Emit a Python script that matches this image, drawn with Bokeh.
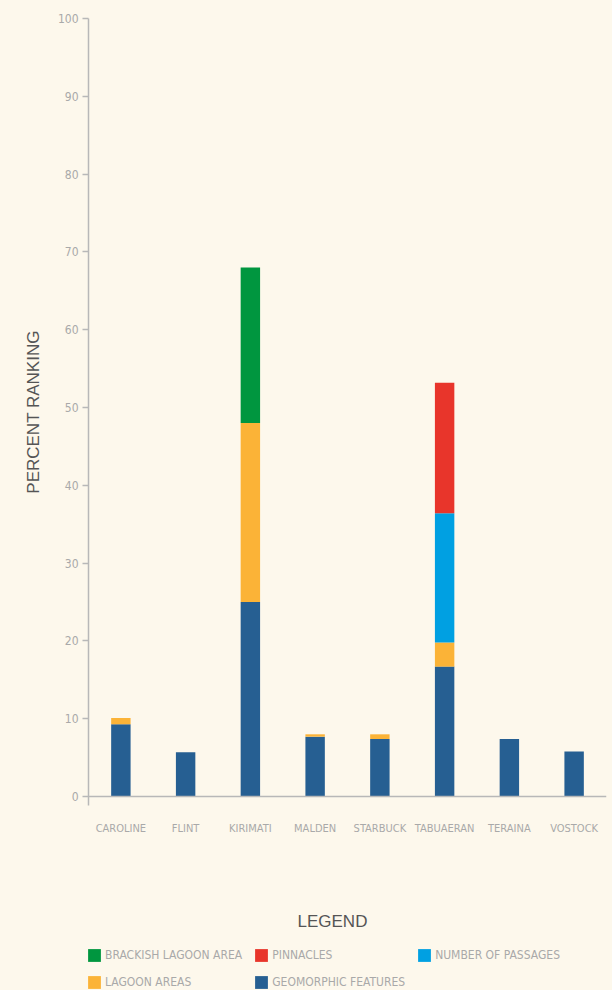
from bokeh.plotting import figure
from bokeh.layouts import column
from bokeh.models import (ColumnDataSource, FactorRange, Range1d, FixedTicker, Span,
                          Legend, LegendItem)
from bokeh.embed import file_html
from bokeh.resources import INLINE

islands = ["CAROLINE", "FLINT", "KIRIMATI", "MALDEN", "STARBUCK", "TABUAERAN", "TERAINA", "VOSTOCK"]
geomorphic = [9.3, 5.7, 25.0, 7.7, 7.4, 16.7, 7.4, 5.8]
lagoon = [0.8, 0.0, 23.0, 0.3, 0.6, 3.1, 0.0, 0.0]
brackish = [0.0, 0.0, 20.0, 0.0, 0.0, 0.0, 0.0, 0.0]
passages = [0.0, 0.0, 0.0, 0.0, 0.0, 16.6, 0.0, 0.0]
pinnacles = [0.0, 0.0, 0.0, 0.0, 0.0, 16.8, 0.0, 0.0]
y_ticks = [0, 10, 20, 30, 40, 50, 60, 70, 80, 90, 100]

series_keys = ["geomorphic", "lagoon", "brackish", "passages", "pinnacles"]
series_labels = {"geomorphic": "GEOMORPHIC FEATURES", "lagoon": "LAGOON AREAS",
                 "brackish": "BRACKISH LAGOON AREA", "passages": "NUMBER OF PASSAGES",
                 "pinnacles": "PINNACLES"}
series_colors = {"geomorphic": "#265f92", "lagoon": "#fbb337", "brackish": "#00963f",
                 "passages": "#00a0e2", "pinnacles": "#e8352b"}
legend_order = ["brackish", "pinnacles", "passages", "lagoon", "geomorphic"]

BG = "#fdf8ec"
TICK_GRAY = "#a9a9a9"
LINE_GRAY = "#b8b8b8"
NARROW = "'DejaVu Sans Condensed', Roboto, sans-serif"
WIDE = "'Liberation Sans', sans-serif"

source = ColumnDataSource(dict(island=islands, geomorphic=geomorphic, lagoon=lagoon,
                               brackish=brackish, passages=passages, pinnacles=pinnacles))
colors = [series_colors[k] for k in series_keys]

# ---------------- main chart ----------------
p = figure(width=612, height=907, x_range=FactorRange(*islands), y_range=Range1d(-1.15, 100),
           output_backend="svg", toolbar_location=None,
           min_border_left=88, min_border_right=6, min_border_top=18, min_border_bottom=102,
           background_fill_color=BG, border_fill_color=BG, outline_line_color=None)

p.vbar_stack(series_keys, x="island", width=0.3, source=source, color=colors, line_color=None)
p.grid.visible = False

p.yaxis.ticker = FixedTicker(ticks=y_ticks)
p.yaxis.minor_tick_line_color = None
p.yaxis.major_tick_in = 0
p.yaxis.major_tick_out = 6
p.yaxis.major_tick_line_color = LINE_GRAY
p.yaxis.major_tick_line_width = 1.5
p.yaxis.axis_line_color = LINE_GRAY
p.yaxis.axis_line_width = 1.5
p.yaxis.major_label_text_font = NARROW
p.yaxis.major_label_text_font_size = "12px"
p.yaxis.major_label_text_color = TICK_GRAY
p.yaxis.major_label_standoff = 4
p.yaxis.axis_label = "PERCENT RANKING"
p.yaxis.axis_label_text_font = WIDE
p.yaxis.axis_label_text_font_style = "normal"
p.yaxis.axis_label_text_font_size = "17px"
p.yaxis.axis_label_text_color = "#555555"
p.yaxis.axis_label_standoff = 12

p.xaxis.axis_line_color = None
p.xaxis.major_tick_line_color = None
p.xaxis.minor_tick_line_color = None
p.xaxis.major_label_text_font = NARROW
p.xaxis.major_label_text_font_size = "11px"
p.xaxis.major_label_text_color = TICK_GRAY
p.xaxis.major_label_standoff = 10

p.add_layout(Span(location=0, dimension="width", line_color=LINE_GRAY, line_width=1.5))

# ---------------- legend panel ----------------
lg = figure(width=612, height=83, x_range=p.x_range, y_range=Range1d(1000, 1001),
            output_backend="svg", toolbar_location=None,
            min_border_left=88, min_border_right=6, min_border_top=12, min_border_bottom=0,
            background_fill_color=BG, border_fill_color=BG, outline_line_color=None,
            title="LEGEND")
lg_renderers = lg.vbar_stack(series_keys, x="island", width=0.3, source=source,
                             color=colors, line_color=None)
lg.axis.visible = False
lg.grid.visible = False
lg.title.align = "left"
lg.title.offset = 209
lg.title.text_font = WIDE
lg.title.text_font_style = "normal"
lg.title.text_font_size = "17px"
lg.title.text_color = "#555555"
lg.title.standoff = 4

rmap = dict(zip(series_keys, lg_renderers))
items = [LegendItem(label=series_labels[k], renderers=[rmap[k]]) for k in legend_order]
legend = Legend(items=items, orientation="horizontal", nrows=2, location=(-2, 0),
                glyph_width=16, glyph_height=16, label_standoff=3, spacing=11,
                padding=0, margin=0, background_fill_alpha=0, border_line_color=None,
                label_text_font=NARROW, label_text_font_size="12px",
                label_text_color=TICK_GRAY, label_height=16)
lg.add_layout(legend)

layout = column(p, lg, spacing=0, styles={"background-color": BG})
open("out.html", "w").write(file_html(layout, INLINE))
